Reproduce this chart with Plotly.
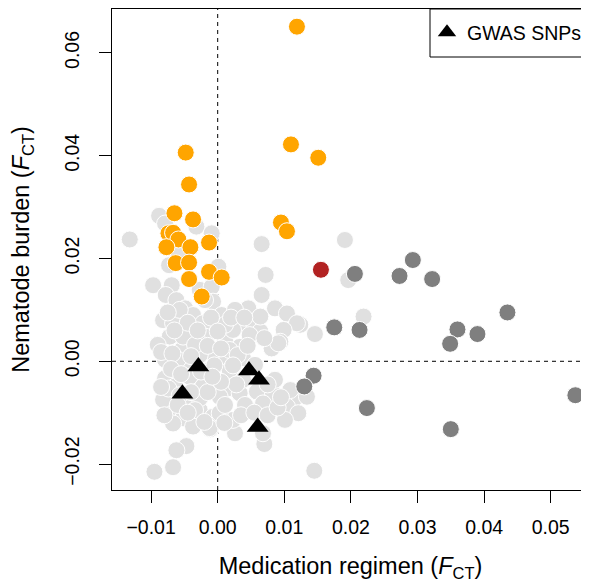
import plotly.graph_objects as go

# Light grey: all other SNPs
bg_x = [-0.0132, -0.0088, -0.0079, -0.0032, -0.0009, 0.0066, 0.0072, 0.0066, -0.0097, -0.0069,
        -0.0078, -0.0073, -0.0059, 0.0001, -0.0027, -0.0009, 0.0191, 0.0196, 0.0219, 0.0146,
        0.0124, 0.0145, -0.0047, -0.0062, -0.0067, -0.0095, -0.0011, 0.0070, 0.0026,
        -0.0062, -0.0007, 0.0046, 0.0086, 0.0104, 0.0119, -0.0049, -0.0037, 0.0006, -0.0082,
        -0.0067, -0.0022, 0.0031, 0.0053, 0.0064, 0.0099, -0.0072, -0.0042, -0.0019, 0.0011,
        0.0033, 0.0094, 0.0081, -0.0054, -0.0079, -0.0007, 0.0014, 0.0038, -0.0047, -0.0079,
        -0.0064, -0.0042, -0.0012, -0.0002, 0.0014, 0.0033, 0.0059, 0.0083, 0.0068, 0.0114,
        0.0134, 0.0104, 0.0121, -0.0072, -0.0052, -0.0027, -0.0007, 0.0023, 0.0048, -0.0012,
        0.0068, -0.0067, -0.0037, -0.0082, -0.0074, -0.0049, -0.0027, 0.0018, 0.0038, 0.0003,
        -0.0022, -0.0032, -0.0052, 0.0023, 0.0048, 0.0064, 0.0091, 0.0101, 0.0003,
        -0.0060, -0.0027, -0.0034, 0.0018, 0.0056, -0.0057, -0.0034, 0.0011, 0.0041, 0.0018,
        0.0086, 0.0109, -0.0057, 0.0026, -0.0090, -0.0019, 0.0011,
        -0.0075, -0.0045, -0.0010, 0.0020, -0.0065, -0.0030, 0.0000, -0.0085, -0.0068, -0.0040,
        -0.0015, 0.0005, 0.0030, -0.0070, -0.0055, -0.0025, -0.0005, 0.0028, -0.0085, -0.0060,
        -0.0040, -0.0015, 0.0005, -0.0080, -0.0045, -0.0020, 0.0010, 0.0035, 0.0055, 0.0075,
        0.0090, 0.0075, 0.0095, 0.0045, 0.0070, 0.0040, -0.0008, 0.0023]
bg_y = [0.0237, 0.0283, 0.0268, 0.0262, 0.0249, 0.0228, 0.0168, 0.0129, 0.0148, 0.0148,
        0.0129, 0.0187, 0.0210, 0.0184, 0.0139, 0.0145, 0.0236, 0.0158, 0.0087, 0.0053,
        0.0071, -0.0213, -0.0165, -0.0173, -0.0206, -0.0215, -0.0132, -0.0161, -0.0140,
        0.0119, 0.0116, 0.0103, 0.0103, 0.0093, 0.0074, 0.0103, 0.0090, 0.0090, 0.0080,
        0.0074, 0.0074, 0.0071, 0.0077, 0.0058, 0.0061, 0.0048, 0.0061, 0.0048, 0.0041,
        0.0028, 0.0038, 0.0025, 0.0022, 0.0003, 0.0016, 0.0003, 0.0006, -0.0007, -0.0033,
        -0.0049, -0.0030, -0.0017, -0.0043, -0.0053, -0.0062, -0.0059, -0.0062, -0.0082, -0.0075,
        -0.0069, -0.0088, -0.0101, -0.0095, -0.0111, -0.0095, -0.0108, -0.0114, -0.0095, -0.0130,
        -0.0140, -0.0121, -0.0127, -0.0075, -0.0053, -0.0079, -0.0072, -0.0030, -0.0036, -0.0069,
        -0.0049, 0.0048, 0.0048, 0.0061, 0.0051, 0.0087, 0.0035, -0.0114, -0.0101,
        0.0003, 0.0012, 0.0032, 0.0022, -0.0007, -0.0066, -0.0095, -0.0085, -0.0085, -0.0017,
        -0.0036, -0.0056, 0.0100, 0.0100, 0.0032, 0.0119, 0.0071,
        0.0095, 0.0075, 0.0085, 0.0085, 0.0060, 0.0060, 0.0058, 0.0018, 0.0015, 0.0010,
        0.0030, 0.0025, 0.0012, -0.0015, -0.0025, -0.0020, -0.0008, -0.0045, -0.0050, -0.0085,
        -0.0060, -0.0060, -0.0040, -0.0105, -0.0100, -0.0118, -0.0120, -0.0105, -0.0100, -0.0105,
        -0.0090, -0.0045, -0.0070, 0.0030, 0.0045, 0.0085, -0.0030, -0.0008]

# Orange: outliers for nematode burden
nem_x = [0.0119, -0.0048, -0.0043, -0.0065, -0.0037, -0.0074, -0.0067, -0.0059, -0.0077, -0.0041,
         -0.0013, -0.0063, -0.0043, -0.0013, 0.0006, -0.0043, -0.0024, 0.0110, 0.0151, 0.0095, 0.0104]
nem_y = [0.0651, 0.0406, 0.0344, 0.0288, 0.0276, 0.0249, 0.0250, 0.0237, 0.0222, 0.0222,
         0.0231, 0.0191, 0.0192, 0.0174, 0.0163, 0.0160, 0.0126, 0.0422, 0.0396, 0.0270, 0.0253]

# Dark grey: outliers for medication regimen
med_x = [0.0206, 0.0273, 0.0293, 0.0175, 0.0213, 0.0144, 0.0130, 0.0224, 0.0322, 0.0435,
         0.0360, 0.0349, 0.0390, 0.0537, 0.0350]
med_y = [0.0170, 0.0166, 0.0197, 0.0066, 0.0061, -0.0028, -0.0049, -0.0091, 0.0160, 0.0095,
         0.0062, 0.0034, 0.0053, -0.0066, -0.0132]

# Red: outlier for both
both_x = [0.0155]
both_y = [0.0178]

# Black triangles: GWAS SNPs
gwas_x = [-0.0029, -0.0053, 0.0047, 0.0062, 0.0060]
gwas_y = [-0.0010, -0.0063, -0.0018, -0.0036, -0.0128]

x_ticks = [-0.01, 0.00, 0.01, 0.02, 0.03, 0.04, 0.05]
y_ticks = [-0.02, 0.00, 0.02, 0.04, 0.06]

FONT = "Liberation Sans, Arial, Helvetica, sans-serif"

W, H = 581, 579
ML, MR, MT, MB = 104, 0, 1, 97
PW, PH = W - ML - MR, H - MT - MB


def dots(x, y, color):
    return go.Scatter(x=x, y=y, mode="markers", showlegend=False, hoverinfo="skip",
                      marker=dict(size=17, color=color, line=dict(color="white", width=1)))


fig = go.Figure()
fig.add_trace(dots(bg_x, bg_y, "#E0E0E0"))
fig.add_trace(dots(nem_x, nem_y, "#FFA500"))
fig.add_trace(dots(med_x, med_y, "#7F7F7F"))
fig.add_trace(dots(both_x, both_y, "#B22222"))
fig.add_trace(go.Scatter(x=gwas_x, y=gwas_y, mode="markers", name="GWAS SNPs",
                         marker=dict(symbol="triangle-up", size=19, color="black",
                                     line=dict(width=0))))

fig.add_vline(x=0, line=dict(color="black", width=1, dash="4px,4px"), layer="below")
fig.add_hline(y=0, line=dict(color="black", width=1, dash="4px,4px"), layer="below")

# legend frame
LEG_LEFT = (422 - ML) / PW
fig.add_shape(type="rect", xref="paper", yref="paper", x0=LEG_LEFT, x1=1.1,
              y0=1 - 48 / PH, y1=1.0,
              line=dict(color="black", width=1), fillcolor="rgba(0,0,0,0)")

axis_common = dict(showline=True, linecolor="black", linewidth=1, showgrid=False, zeroline=False,
                   ticks="outside", ticklen=12, tickwidth=1, tickcolor="black",
                   tickfont=dict(family=FONT, size=19.5, color="black"), tickformat=".2f",
                   automargin=False)

fig.update_layout(
    width=W, height=H,
    margin=dict(l=ML, r=MR, t=MT, b=MB, autoexpand=False),
    plot_bgcolor="white", paper_bgcolor="white",
    font=dict(family=FONT, color="black"),
    xaxis=dict(range=[-0.01587, 0.05575], tickvals=x_ticks, mirror=True,
               ticklabelstandoff=8,
               title=dict(text="Medication regimen (<i>F</i><sub>CT</sub>)",
                          font=dict(family=FONT, size=23.5), standoff=20),
               **axis_common),
    yaxis=dict(range=[-0.02504, 0.06854], tickvals=y_ticks, tickangle=-90, mirror=False,
               ticklabelstandoff=12,
               title=dict(text="Nematode burden (<i>F</i><sub>CT</sub>)",
                          font=dict(family=FONT, size=23.5), standoff=24),
               **axis_common),
    legend=dict(x=(419 - ML) / PW, y=1 - 4 / PH, xanchor="left", yanchor="top",
                bgcolor="rgba(0,0,0,0)", borderwidth=0,
                font=dict(family=FONT, size=19.5, color="black")),
)

fig.write_html("out.html")
